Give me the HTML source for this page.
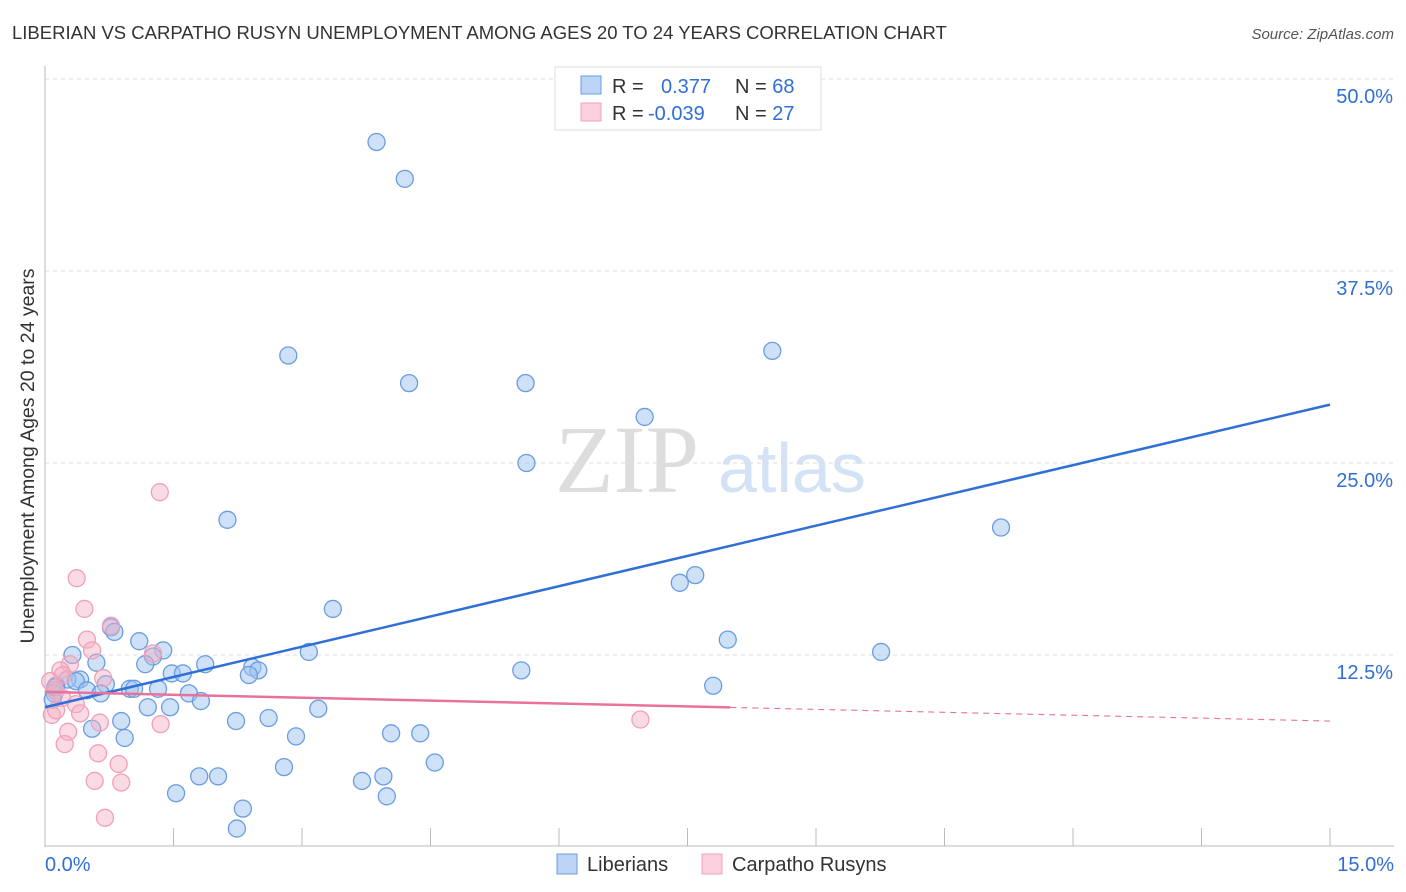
<!DOCTYPE html>
<html><head><meta charset="utf-8">
<style>
body{margin:0;background:#fff;font-family:"Liberation Sans",sans-serif;}
svg{display:block}
</style></head>
<body>
<svg width="1406" height="892" id="chart">
<text x="12" y="39" font-size="18.5" fill="#333">LIBERIAN VS CARPATHO RUSYN UNEMPLOYMENT AMONG AGES 20 TO 24 YEARS CORRELATION CHART</text>
<text x="1394" y="39" font-size="15" fill="#555" text-anchor="end" font-style="italic">Source: ZipAtlas.com</text>
<text x="555" y="492" font-size="96" fill="#ddd" font-family="Liberation Serif">ZIP</text>
<text x="718" y="492" font-size="70" fill="#d3e2f5">atlas</text>
<g id="grid"></g>
<g id="axes"></g>
<g id="pts"></g>
<g id="lines"></g>
<text transform="translate(34,456) rotate(-90)" font-size="19.5" fill="#333" text-anchor="middle">Unemployment Among Ages 20 to 24 years</text>
<g>
<rect x="555" y="67" width="266" height="63" fill="#fff" stroke="#ddd"/>
<rect x="581" y="76" width="20" height="18" fill="#bcd4f5" stroke="#6a9de0"/>
<rect x="581" y="103" width="20" height="18" fill="#fbd0dc" stroke="#f0a0b8"/>
<text x="612" y="93" font-size="20" fill="#333">R = </text>
<text x="661" y="93" font-size="20" fill="#2f6fd6">0.377</text>
<text x="735" y="93" font-size="20" fill="#333">N = <tspan fill="#2f6fd6">68</tspan></text>
<text x="612" y="120" font-size="20" fill="#333">R = </text>
<text x="648" y="120" font-size="20" fill="#2f6fd6">-0.039</text>
<text x="735" y="120" font-size="20" fill="#333">N = <tspan fill="#2f6fd6">27</tspan></text>
</g>
<g>
<rect x="557" y="854" width="20" height="20" fill="#bcd4f5" stroke="#6a9de0"/>
<text x="587" y="871" font-size="20" fill="#333">Liberians</text>
<rect x="702" y="854" width="20" height="20" fill="#fbd0dc" stroke="#f0a0b8"/>
<text x="732" y="871" font-size="20" fill="#333">Carpatho Rusyns</text>
</g>
<text x="45" y="871" font-size="20" fill="#2f6fd6">0.0%</text>
<text x="1394" y="871" font-size="20" fill="#2f6fd6" text-anchor="end">15.0%</text>
</svg>
<script>
const yTicks=[12.5,25,37.5,50];
const yTickLabels=["12.5%","25.0%","37.5%","50.0%"];
const xTicks=[0,1.5,3,4.5,6,7.5,9,10.5,12,13.5,15];
const blueX=[3.87,4.20,2.84,4.25,5.61,8.49,7.00,5.62,2.13,11.16,7.59,7.41,3.36,7.97,9.76,0.77,0.81,1.10,1.38,1.26,1.17,1.87,2.42,3.08,0.32,0.60,2.49,2.38,1.48,1.61,5.56,0.41,0.26,0.36,0.13,0.71,0.99,1.04,1.32,1.68,0.49,0.65,0.11,0.09,1.82,1.20,1.46,3.19,7.80,0.89,0.55,2.23,2.61,0.93,2.93,4.04,4.38,4.55,2.79,1.80,2.02,3.95,3.70,1.53,3.99,2.31,2.24,0.12];
const blueY=[45.9,43.5,32.0,30.2,30.2,32.3,28.0,25.0,21.3,20.8,17.7,17.2,15.5,13.5,12.7,14.3,14.0,13.4,12.8,12.4,11.9,11.9,11.7,12.7,12.5,12.0,11.5,11.2,11.3,11.3,11.5,10.9,10.9,10.8,10.5,10.6,10.3,10.3,10.3,10.0,10.2,10.0,10.0,9.6,9.5,9.1,9.1,9.0,10.5,8.2,7.7,8.2,8.4,7.1,7.2,7.4,7.4,5.5,5.2,4.6,4.6,4.6,4.3,3.5,3.3,2.5,1.2,10.4];
const pinkX=[1.34,0.37,0.46,0.77,0.49,0.55,1.26,0.29,0.18,0.21,0.68,0.06,0.12,0.20,0.36,0.41,0.08,0.13,0.27,0.64,1.35,6.95,0.23,0.62,0.86,0.58,0.89,0.70];
const pinkY=[23.1,17.5,15.5,14.4,13.5,12.8,12.6,11.9,11.5,11.2,11.0,10.8,10.2,9.7,9.3,8.7,8.6,8.9,7.5,8.1,8.0,8.3,6.7,6.1,5.4,4.3,4.2,1.9];
const blueFit=[9.1,28.8];
const pinkFit=[10.1,8.2];
const X=v=>45+v*(1285/15), Y=v=>847-v*(768/50);
const NS="http://www.w3.org/2000/svg";
function mk(t,a,p){const e=document.createElementNS(NS,t);for(const k in a)e.setAttribute(k,a[k]);p.appendChild(e);return e;}
const grid=document.getElementById('grid'),axes=document.getElementById('axes'),pts=document.getElementById('pts'),lines=document.getElementById('lines');
yTicks.forEach((t,i)=>{
 const g=mk('line',{x1:45,x2:1394,y1:Y(t),y2:Y(t),stroke:'#ddd','stroke-dasharray':'4,4'},grid);
 
 
 const l=mk('text',{x:1393,y:Y(t)+24,'font-size':20,fill:'#2f6fd6','text-anchor':'end'},grid);
 l.textContent=yTickLabels[i];
 
 
});
const ax=mk('line',{x1:45,x2:45,y1:66,y2:847,stroke:'#bbb'},axes);


const bx=mk('line',{x1:45,x2:1394,y1:846,y2:846,stroke:'#bbb'},axes);


xTicks.forEach(t=>{
 const k=mk('line',{x1:X(t),x2:X(t),y1:828,y2:846,stroke:'#bbb'},axes);
 
 
});
blueX.forEach((v,i)=>{
 const c=mk('circle',{cx:X(v),cy:Y(blueY[i]),r:8.5,fill:'rgba(160,196,240,0.5)',stroke:'#6a9de0','stroke-width':1.3},pts);
 
 
});
pinkX.forEach((v,i)=>{
 const c=mk('circle',{cx:X(v),cy:Y(pinkY[i]),r:8.5,fill:'rgba(245,175,195,0.45)',stroke:'#f0a0b8','stroke-width':1.3},pts);
 
 
});
const bl=mk('line',{x1:X(0),y1:Y(blueFit[0]),x2:X(15),y2:Y(blueFit[1]),stroke:'#2f6fd6','stroke-width':2.5},lines);


const pe=8.0, pm=pinkFit[0]+(pinkFit[1]-pinkFit[0])*pe/15;
const pl=mk('line',{x1:X(0),y1:Y(pinkFit[0]),x2:X(pe),y2:Y(pm),stroke:'#e8729a','stroke-width':2.5},lines);


const pd=mk('line',{x1:X(pe),y1:Y(pm),x2:X(15),y2:Y(pinkFit[1]),stroke:'#e8729a','stroke-width':1.2,'stroke-dasharray':'6,5'},lines);


</script>
</body></html>
